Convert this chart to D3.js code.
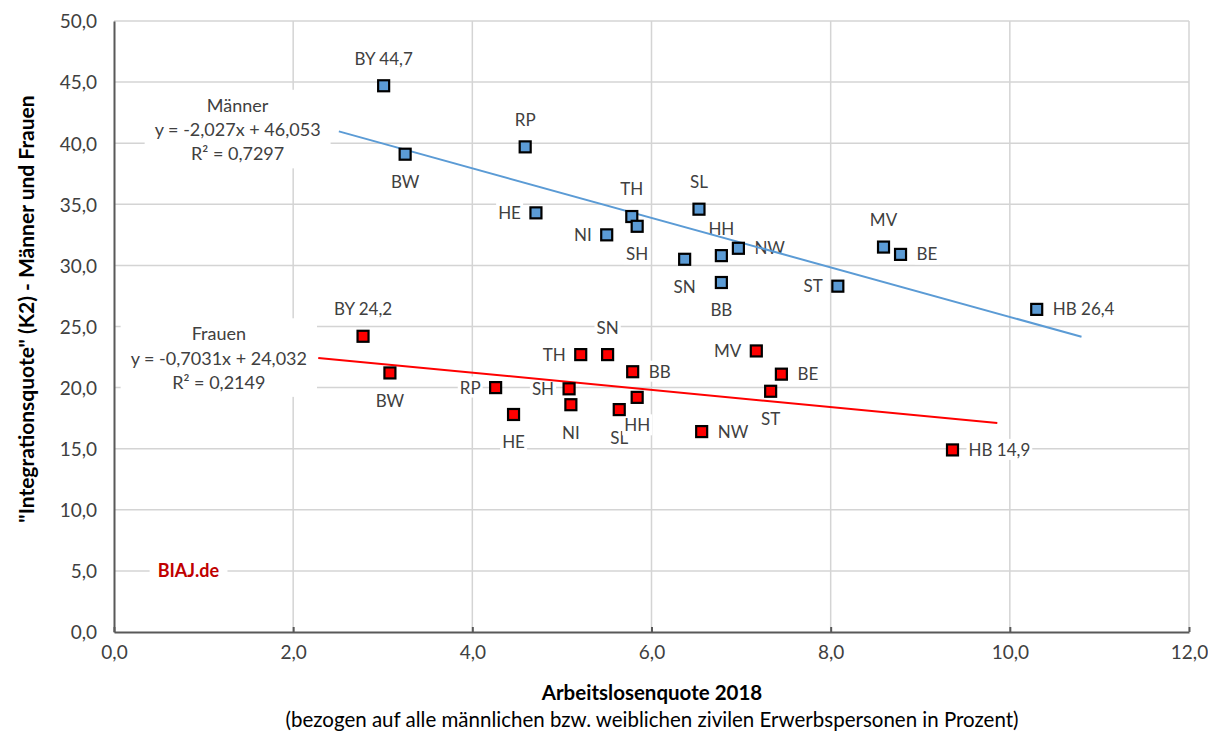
<!DOCTYPE html>
<html>
<head>
<meta charset="utf-8">
<script src="https://cdn.jsdelivr.net/npm/d3@7"></script>
<style>
body { margin: 0; background: #fff; }
text { font-family: Lato, "Open Sans", sans-serif; }
</style>
</head>
<body>
<div id="chart"></div>
<script>
// Männer
const menLabels = ["BY 44,7", "BW", "RP", "HE", "NI", "TH", "SH", "SL", "SN", "HH", "NW", "BB", "ST", "MV", "BE", "HB 26,4"]
const menX = [3.01, 3.25, 4.59, 4.71, 5.50, 5.78, 5.84, 6.53, 6.37, 6.78, 6.97, 6.78, 8.08, 8.59, 8.78, 10.30]
const menY = [44.7, 39.1, 39.7, 34.3, 32.5, 34.0, 33.2, 34.6, 30.5, 30.8, 31.4, 28.6, 28.3, 31.5, 30.9, 26.4]
const menPos = ["a", "b", "a", "l", "l", "a", "b", "a", "b", "a", "r", "b", "l", "a", "r", "r"]
// Frauen
const womenLabels = ["BY 24,2", "BW", "RP", "HE", "TH", "SN", "SH", "NI", "SL", "BB", "HH", "MV", "BE", "ST", "NW", "HB 14,9"]
const womenX = [2.78, 3.08, 4.26, 4.46, 5.21, 5.51, 5.08, 5.10, 5.64, 5.79, 5.84, 7.17, 7.45, 7.33, 6.56, 9.36]
const womenY = [24.2, 21.2, 20.0, 17.8, 22.7, 22.7, 19.9, 18.6, 18.2, 21.3, 19.2, 23.0, 21.1, 19.7, 16.4, 14.9]
const womenPos = ["a", "b", "l", "b", "l", "a", "l", "b", "b", "r", "b", "l", "r", "b", "r", "r"]
// Trendlinien (Excel)
const trendSlope = [-2.027, -0.7031]
const trendIntercept = [46.053, 24.032]
const trendR2 = [0.7297, 0.2149]
const trendNames = ["Männer", "Frauen"]
// Achsen
const xTicks = [0, 2, 4, 6, 8, 10, 12]
const yTicks = [0, 5, 10, 15, 20, 25, 30, 35, 40, 45, 50]

const width = 1208, height = 731
const margin = {left: 114, top: 21, right: 19, bottom: 99}
const W = width - margin.left - margin.right
const H = height - margin.top - margin.bottom

const de = d3.formatLocale({decimal: ",", thousands: ".", grouping: [3], currency: ["", " €"]})
const f1 = de.format(".1f")

const svg = d3.select("#chart").append("svg")
    .attr("width", width)
    .attr("height", height)

const x = d3.scaleLinear().domain([0, 12]).range([margin.left, margin.left + W])
const y = d3.scaleLinear().domain([0, 50]).range([margin.top + H, margin.top])

// Gitternetz
const grid = svg.append("g")
grid.selectAll(".gx").data(xTicks.slice(1)).enter().append("line")
    .attr("x1", d => x(d)).attr("x2", d => x(d))
    .attr("y1", y(0)).attr("y2", y(50))
    .style("stroke", "#d4d4d4").style("stroke-width", 1.5)
grid.selectAll(".gy").data(yTicks.slice(1)).enter().append("line")
    .attr("x1", x(0)).attr("x2", x(12))
    .attr("y1", d => y(d)).attr("y2", d => y(d))
    .style("stroke", "#d4d4d4").style("stroke-width", 1.5)

// Achsen
const xAxis = svg.append("g")
    .attr("transform", `translate(0, ${y(0)})`)
    .call(d3.axisBottom(x).tickValues(xTicks).tickFormat(f1).tickSizeInner(-5).tickSizeOuter(0).tickPadding(14))
const yAxis = svg.append("g")
    .attr("transform", `translate(${x(0)}, 0)`)
    .call(d3.axisLeft(y).tickValues(yTicks).tickFormat(f1).tickSize(0).tickPadding(17))
xAxis.select(".domain").style("stroke", "#595959").style("stroke-width", 2)
yAxis.select(".domain").style("stroke", "#595959").style("stroke-width", 2)
xAxis.selectAll(".tick line").style("stroke", "#595959").style("stroke-width", 2)
svg.selectAll(".tick text")
    .style("font-family", "Lato, sans-serif")
    .style("font-size", "19px")
    .style("fill", "#404040")
yAxis.selectAll(".tick text").attr("dy", "0.36em")

// Achsentitel
svg.append("text")
    .attr("transform", `translate(34, 309) rotate(-90)`)
    .attr("text-anchor", "middle")
    .style("font-size", "21px").style("font-weight", "bold").style("fill", "#000")
    .text('"Integrationsquote" (K2) - Männer und Frauen')
svg.append("text")
    .attr("x", 652).attr("y", 700)
    .attr("text-anchor", "middle")
    .style("font-size", "20.5px").style("font-weight", "bold").style("fill", "#000")
    .text("Arbeitslosenquote 2018")
svg.append("text")
    .attr("x", 652).attr("y", 727)
    .attr("text-anchor", "middle")
    .style("font-size", "20.5px").style("fill", "#000")
    .text("(bezogen auf alle männlichen bzw. weiblichen zivilen Erwerbspersonen in Prozent)")

// Textfeld mit weißem Hintergrund
function boxText(g, cx, cy, anchor, lines, size, weight, color, padX, padY) {
    const grp = g.append("g")
    const bg = grp.append("rect").style("fill", "#fff")
    const lh = size * 1.35
    const t = grp.append("text")
        .attr("text-anchor", anchor)
        .style("font-size", size + "px")
        .style("font-weight", weight)
        .style("fill", color)
    lines.forEach((l, i) => {
        t.append("tspan")
            .attr("x", cx)
            .attr("y", cy + (i - (lines.length - 1) / 2) * lh)
            .attr("dy", "0.35em")
            .text(l)
    })
    const bb = t.node().getBBox()
    bg.attr("x", bb.x - padX).attr("y", bb.y - padY)
        .attr("width", bb.width + 2 * padX).attr("height", bb.height + 2 * padY)
    return grp
}

// Datenbeschriftungen
const labelLayer = svg.append("g")
function drawLabels(labels, xs, ys, pos) {
    labels.forEach((lab, i) => {
        const px = x(xs[i]), py = y(ys[i])
        let cx = px, cy = py, anchor = "middle"
        if (pos[i] == "a") cy = py - 27
        if (pos[i] == "b") cy = py + 28
        if (pos[i] == "l") { cx = px - 15; anchor = "end" }
        if (pos[i] == "r") { cx = px + 16; anchor = "start" }
        boxText(labelLayer, cx, cy, anchor, [lab], 17, "normal", "#404040", 2, 0)
    })
}
drawLabels(menLabels, menX, menY, menPos)
drawLabels(womenLabels, womenX, womenY, womenPos)

// Gleichungen
const eqCenter = [[1.38, 41.1], [1.17, 22.4]]
trendNames.forEach((n, i) => {
    const eq = "y = " + de.format(".4~f")(trendSlope[i]).replace("−", "-") + "x + " + de.format(".3f")(trendIntercept[i])
    const r2 = "R² = " + de.format(".4f")(trendR2[i])
    boxText(labelLayer, x(eqCenter[i][0]), y(eqCenter[i][1]), "middle", [n, eq, r2], 18, "normal", "#404040", 10, 4)
})

// Quelle
boxText(labelLayer, x(0.83), y(5), "middle", ["BIAJ.de"], 18, "bold", "#C00000", 8, 0)

// Trendlinien
const trendColors = ["#5B9BD5", "#FF0000"]
const xsAll = [menX, womenX]
xsAll.forEach((xs, i) => {
    const ext = d3.extent(xs)
    const x0 = ext[0] - 0.5, x1 = ext[1] + 0.5
    svg.append("line")
        .attr("x1", x(x0)).attr("y1", y(trendSlope[i] * x0 + trendIntercept[i]))
        .attr("x2", x(x1)).attr("y2", y(trendSlope[i] * x1 + trendIntercept[i]))
        .style("stroke", trendColors[i]).style("stroke-width", 2)
})

// Punkte
const s = 11
function drawPoints(xs, ys, color) {
    svg.append("g").selectAll("rect")
        .data(xs.map((d, i) => [d, ys[i]]))
        .enter().append("rect")
        .attr("x", d => x(d[0]) - s / 2)
        .attr("y", d => y(d[1]) - s / 2)
        .attr("width", s).attr("height", s)
        .style("fill", color)
        .style("stroke", "#000")
        .style("stroke-width", 2.2)
}
drawPoints(menX, menY, "#5B9BD5")
drawPoints(womenX, womenY, "#FF0000")
</script>
</body>
</html>
